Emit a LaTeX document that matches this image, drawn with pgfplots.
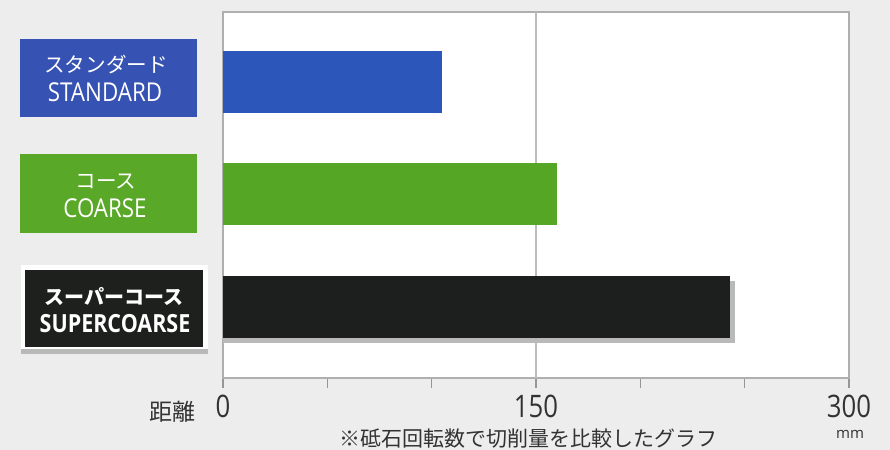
\documentclass[border=0pt]{standalone}
\usepackage{pgfplots}
\pgfplotsset{compat=1.18}
\usepackage{fontspec}
\setmainfont{Open Sans}
\newfontfamily\condfont[FakeStretch=0.83]{Open Sans}
\newfontfamily\labfont[FakeStretch=0.86]{Open Sans}
\newfontfamily\jp{Noto Sans CJK JP}
\definecolor{bg}{RGB}{237,237,237}
\definecolor{boxblue}{RGB}{54,82,178}
\definecolor{barblue}{RGB}{45,86,186}
\definecolor{boxgreen}{RGB}{90,168,40}
\definecolor{bargreen}{RGB}{85,166,36}
\definecolor{boxblack}{RGB}{30,32,30}
\definecolor{barblack}{RGB}{28,31,29}
\definecolor{framegray}{RGB}{175,175,175}
\definecolor{gridgray}{RGB}{188,188,188}
\definecolor{tickgray}{RGB}{150,150,150}
\definecolor{labgray}{RGB}{50,50,50}
\definecolor{shadowgray}{RGB}{185,185,185}
\begin{document}
\begin{tikzpicture}[x=0.5pt,y=-0.5pt]
\useasboundingbox (0,0) rectangle (890,450);
\clip (0,0) rectangle (890,450);
\fill[bg] (0,0) rectangle (890,450);
\begin{axis}[
  at={(111.5pt,-189pt)}, anchor=south west,
  scale only axis, width=313pt, height=183pt,
  xmin=0, xmax=300, ymin=-0.631, ymax=2.622,
  xtick={0,50,...,300}, xticklabels={0,,,150,,,300},
  xtick pos=bottom,
  ytick=\empty,
  axis background/.style={fill=white},
  axis line style={draw=framegray, line width=1pt},
  tick align=outside, major tick length=5pt,
  xtick style={draw=tickgray, line width=0.6pt},
  xticklabel style={font=\condfont\fontsize{15.5}{16}\selectfont, text=labgray},
  extra x ticks={150}, extra x tick labels={},
  extra x tick style={grid=major, major tick length=0pt},
  major grid style={draw=gridgray, line width=0.8pt},
  clip=false,
]
\addplot[xbar, bar shift=0pt, bar width=0.551, fill=shadowgray, draw=none] coordinates {(245.4,-0.044)};
\addplot[xbar, bar shift=0pt, bar width=0.551, fill=barblack, draw=none] coordinates {(243,0)};
\addplot[xbar, bar shift=0pt, bar width=0.551, fill=bargreen, draw=none] coordinates {(160,1)};
\addplot[xbar, bar shift=0pt, bar width=0.551, fill=barblue, draw=none] coordinates {(105,2)};
\end{axis}
% category label boxes
\fill[boxblue] (20,39) rectangle (197,117);
\node[text=white, font=\jp\fontsize{10.3}{12}\selectfont] at (106,64) {スタンダード};
\node[text=white, font=\labfont\fontsize{13}{14}\selectfont] at (105,92) {STANDARD};
\fill[boxgreen] (20,154) rectangle (197,233);
\node[text=white, font=\jp\fontsize{10.3}{12}\selectfont] at (106,181) {コース};
\node[text=white, font=\labfont\fontsize{13}{14}\selectfont] at (105,208) {COARSE};
\fill[shadowgray] (21,268) rectangle (208,354);
\fill[white] (21,265) rectangle (208,349);
\fill[boxblack] (25,270) rectangle (203,347);
\node[text=white, font=\jp\bfseries\fontsize{10}{12}\selectfont] at (114,296) {スーパーコース};
\node[text=white, font=\labfont\bfseries\fontsize{12.5}{14}\selectfont] at (115,324) {SUPERCOARSE};
% axis texts
\node[text=labgray, font=\jp\fontsize{11.5}{13}\selectfont] at (172,412) {距離};
\node[text=labgray, font=\fontsize{7.5}{9}\selectfont] at (850,434) {mm};
\node[text=labgray, font=\jp\fontsize{10.5}{12}\selectfont] at (528,439) {※砥石回転数で切削量を比較したグラフ};
\end{tikzpicture}
\end{document}
